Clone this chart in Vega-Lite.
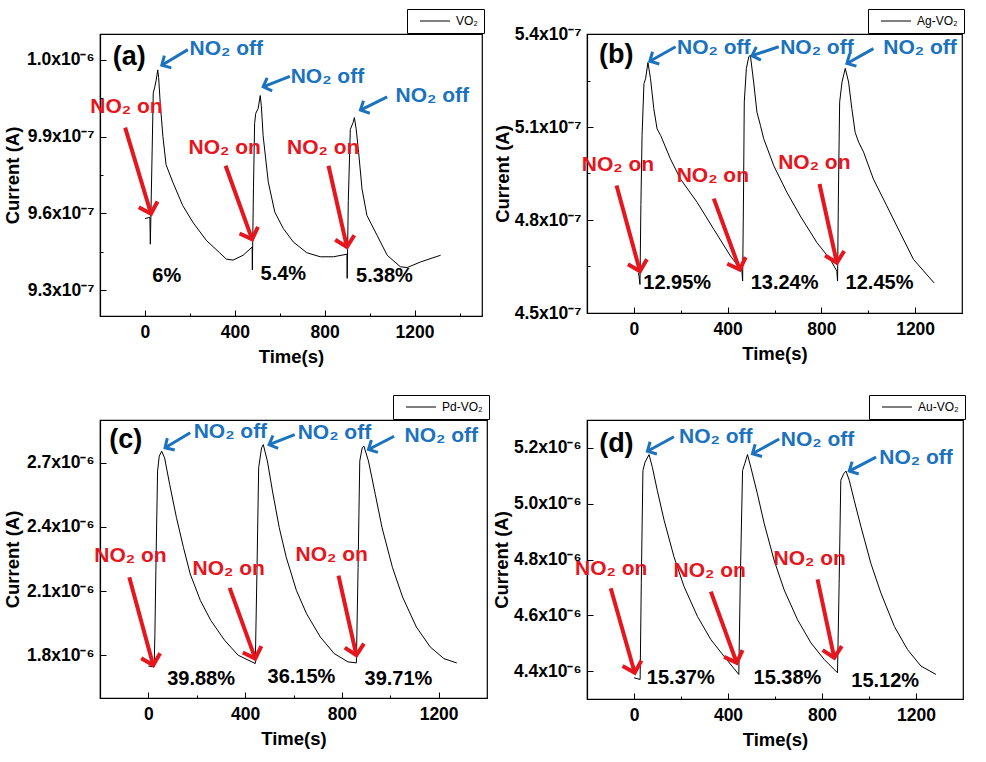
{
"$schema": "https://vega.github.io/schema/vega-lite/v6.json",
"padding": {"left": 2, "top": 7, "right": 0, "bottom": 0},
"config": {
 "view": {"stroke": "black", "strokeWidth": 1.2},
 "axis": {"grid": false, "domainColor": "black", "domainWidth": 1.2, "tickColor": "black", "tickWidth": 1, "labelColor": "black", "titleColor": "black", "labelFont": "Liberation Sans", "labelFontWeight": "bold", "labelFontSize": 17.5, "titleFont": "Liberation Sans", "titleFontWeight": "bold", "titleFontSize": 18.5, "labelFlush": false, "labelOverlap": false},
 "legend": {"title": null, "orient": "none", "symbolType": "M0.2,0L6.2,0", "symbolSize": 100, "symbolStrokeWidth": 1, "labelOffset": 31, "padding": 6, "strokeColor": "black", "fillColor": "white", "labelFontSize": 12, "labelFont": "Liberation Sans", "labelColor": "black", "legendY": -25}
},
"resolve": {"scale": {"color": "independent"}, "legend": {"color": "independent"}},
"datasets": {
 "a_curve": [
  {"sample":"VO₂","t":0,"I":9.58e-7},{"sample":"VO₂","t":22,"I":9.585e-7},{"sample":"VO₂","t":24,"I":9.48e-7},{"sample":"VO₂","t":30,"I":9.75e-7},{"sample":"VO₂","t":37,"I":1.007e-6},{"sample":"VO₂","t":43,"I":1.009e-6},{"sample":"VO₂","t":50,"I":1.012e-6},{"sample":"VO₂","t":57,"I":1.016e-6},{"sample":"VO₂","t":61,"I":1.013e-6},{"sample":"VO₂","t":68,"I":1.003e-6},{"sample":"VO₂","t":80,"I":9.90e-7},{"sample":"VO₂","t":94,"I":9.79e-7},{"sample":"VO₂","t":124,"I":9.722e-7},{"sample":"VO₂","t":168,"I":9.631e-7},{"sample":"VO₂","t":213,"I":9.566e-7},{"sample":"VO₂","t":273,"I":9.495e-7},{"sample":"VO₂","t":332,"I":9.447e-7},{"sample":"VO₂","t":362,"I":9.422e-7},{"sample":"VO₂","t":392,"I":9.418e-7},{"sample":"VO₂","t":437,"I":9.437e-7},{"sample":"VO₂","t":477,"I":9.469e-7},{"sample":"VO₂","t":478,"I":9.38e-7},{"sample":"VO₂","t":483,"I":9.70e-7},{"sample":"VO₂","t":488,"I":9.95e-7},{"sample":"VO₂","t":493,"I":9.99e-7},{"sample":"VO₂","t":504,"I":1.001e-6},{"sample":"VO₂","t":513,"I":1.006e-6},{"sample":"VO₂","t":518,"I":1.002e-6},{"sample":"VO₂","t":526,"I":9.903e-7},{"sample":"VO₂","t":549,"I":9.722e-7},{"sample":"VO₂","t":578,"I":9.605e-7},{"sample":"VO₂","t":616,"I":9.541e-7},{"sample":"VO₂","t":660,"I":9.489e-7},{"sample":"VO₂","t":720,"I":9.447e-7},{"sample":"VO₂","t":780,"I":9.431e-7},{"sample":"VO₂","t":839,"I":9.431e-7},{"sample":"VO₂","t":899,"I":9.441e-7},{"sample":"VO₂","t":900,"I":9.347e-7},{"sample":"VO₂","t":905,"I":9.65e-7},{"sample":"VO₂","t":914,"I":9.928e-7},{"sample":"VO₂","t":926,"I":9.954e-7},{"sample":"VO₂","t":932,"I":9.974e-7},{"sample":"VO₂","t":940,"I":9.93e-7},{"sample":"VO₂","t":951,"I":9.838e-7},{"sample":"VO₂","t":966,"I":9.696e-7},{"sample":"VO₂","t":988,"I":9.592e-7},{"sample":"VO₂","t":1033,"I":9.515e-7},{"sample":"VO₂","t":1078,"I":9.437e-7},{"sample":"VO₂","t":1137,"I":9.392e-7},{"sample":"VO₂","t":1167,"I":9.389e-7},{"sample":"VO₂","t":1227,"I":9.411e-7},{"sample":"VO₂","t":1316,"I":9.437e-7}
 ],
 "a_notes": [
  {"kind":"tag","text":"(a)","tx":-70,"ty":1.0181e-6},
  {"kind":"off","text":"NO₂ off","tx":362,"ty":1.0217e-6,"x1":191,"y1":1.0239e-6,"x2":75,"y2":1.0178e-6,"angle":240},
  {"kind":"off","text":"NO₂ off","tx":812,"ty":1.0110e-6,"x1":645,"y1":1.0135e-6,"x2":526,"y2":1.0094e-6,"angle":249},
  {"kind":"off","text":"NO₂ off","tx":1279,"ty":1.0035e-6,"x1":1078,"y1":1.0055e-6,"x2":959,"y2":1.0003e-6,"angle":243},
  {"kind":"on","text":"NO₂ on","tx":-82,"ty":9.993e-7,"x1":-88,"y1":9.935e-7,"x2":27,"y2":9.599e-7,"angle":163},
  {"kind":"on","text":"NO₂ on","tx":355,"ty":9.831e-7,"x1":359,"y1":9.786e-7,"x2":477,"y2":9.499e-7,"angle":160},
  {"kind":"on","text":"NO₂ on","tx":793,"ty":9.831e-7,"x1":817,"y1":9.786e-7,"x2":899,"y2":9.469e-7,"angle":167},
  {"kind":"pct","text":"6%","tx":97,"ty":9.331e-7},
  {"kind":"pct","text":"5.4%","tx":616,"ty":9.340e-7},
  {"kind":"pct","text":"5.38%","tx":1066,"ty":9.331e-7}
 ],
 "b_curve": [
  {"sample":"Ag-VO₂","t":20,"I":4.63e-7},{"sample":"Ag-VO₂","t":26,"I":4.592e-7},{"sample":"Ag-VO₂","t":30,"I":4.85e-7},{"sample":"Ag-VO₂","t":35,"I":5.073e-7},{"sample":"Ag-VO₂","t":43,"I":5.24e-7},{"sample":"Ag-VO₂","t":50,"I":5.256e-7},{"sample":"Ag-VO₂","t":60,"I":5.308e-7},{"sample":"Ag-VO₂","t":71,"I":5.256e-7},{"sample":"Ag-VO₂","t":85,"I":5.159e-7},{"sample":"Ag-VO₂","t":99,"I":5.094e-7},{"sample":"Ag-VO₂","t":114,"I":5.073e-7},{"sample":"Ag-VO₂","t":156,"I":4.997e-7},{"sample":"Ag-VO₂","t":199,"I":4.932e-7},{"sample":"Ag-VO₂","t":270,"I":4.857e-7},{"sample":"Ag-VO₂","t":341,"I":4.770e-7},{"sample":"Ag-VO₂","t":412,"I":4.684e-7},{"sample":"Ag-VO₂","t":461,"I":4.635e-7},{"sample":"Ag-VO₂","t":464,"I":4.603e-7},{"sample":"Ag-VO₂","t":468,"I":4.90e-7},{"sample":"Ag-VO₂","t":471,"I":5.181e-7},{"sample":"Ag-VO₂","t":480,"I":5.289e-7},{"sample":"Ag-VO₂","t":490,"I":5.326e-7},{"sample":"Ag-VO₂","t":497,"I":5.332e-7},{"sample":"Ag-VO₂","t":511,"I":5.245e-7},{"sample":"Ag-VO₂","t":525,"I":5.148e-7},{"sample":"Ag-VO₂","t":540,"I":5.105e-7},{"sample":"Ag-VO₂","t":554,"I":5.062e-7},{"sample":"Ag-VO₂","t":597,"I":4.975e-7},{"sample":"Ag-VO₂","t":653,"I":4.889e-7},{"sample":"Ag-VO₂","t":710,"I":4.813e-7},{"sample":"Ag-VO₂","t":781,"I":4.727e-7},{"sample":"Ag-VO₂","t":838,"I":4.673e-7},{"sample":"Ag-VO₂","t":866,"I":4.635e-7},{"sample":"Ag-VO₂","t":869,"I":4.603e-7},{"sample":"Ag-VO₂","t":873,"I":4.90e-7},{"sample":"Ag-VO₂","t":878,"I":5.18e-7},{"sample":"Ag-VO₂","t":888,"I":5.245e-7},{"sample":"Ag-VO₂","t":902,"I":5.289e-7},{"sample":"Ag-VO₂","t":916,"I":5.245e-7},{"sample":"Ag-VO₂","t":930,"I":5.159e-7},{"sample":"Ag-VO₂","t":944,"I":5.083e-7},{"sample":"Ag-VO₂","t":959,"I":5.051e-7},{"sample":"Ag-VO₂","t":980,"I":5.019e-7},{"sample":"Ag-VO₂","t":1022,"I":4.932e-7},{"sample":"Ag-VO₂","t":1079,"I":4.846e-7},{"sample":"Ag-VO₂","t":1136,"I":4.759e-7},{"sample":"Ag-VO₂","t":1193,"I":4.673e-7},{"sample":"Ag-VO₂","t":1281,"I":4.597e-7}
 ],
 "b_notes": [
  {"kind":"tag","text":"(b)","tx":-75,"ty":5.305e-7},
  {"kind":"off","text":"NO₂ off","tx":341,"ty":5.334e-7,"x1":178,"y1":5.359e-7,"x2":68,"y2":5.312e-7,"angle":241},
  {"kind":"off","text":"NO₂ off","tx":781,"ty":5.334e-7,"x1":618,"y1":5.359e-7,"x2":504,"y2":5.330e-7,"angle":251},
  {"kind":"off","text":"NO₂ off","tx":1221,"ty":5.334e-7,"x1":1022,"y1":5.353e-7,"x2":909,"y2":5.305e-7,"angle":241},
  {"kind":"on","text":"NO₂ on","tx":-68,"ty":4.959e-7,"x1":-74,"y1":4.911e-7,"x2":26,"y2":4.635e-7,"angle":165},
  {"kind":"on","text":"NO₂ on","tx":337,"ty":4.921e-7,"x1":341,"y1":4.869e-7,"x2":452,"y2":4.640e-7,"angle":160},
  {"kind":"on","text":"NO₂ on","tx":770,"ty":4.965e-7,"x1":792,"y1":4.916e-7,"x2":866,"y2":4.662e-7,"angle":167},
  {"kind":"pct","text":"12.95%","tx":185,"ty":4.576e-7},
  {"kind":"pct","text":"13.24%","tx":643,"ty":4.578e-7},
  {"kind":"pct","text":"12.45%","tx":1048,"ty":4.576e-7}
 ],
 "c_curve": [
  {"sample":"Pd-VO₂","t":0,"I":1.749e-6},{"sample":"Pd-VO₂","t":24,"I":1.746e-6},{"sample":"Pd-VO₂","t":27,"I":1.90e-6},{"sample":"Pd-VO₂","t":31,"I":2.196e-6},{"sample":"Pd-VO₂","t":38,"I":2.661e-6},{"sample":"Pd-VO₂","t":45,"I":2.731e-6},{"sample":"Pd-VO₂","t":55,"I":2.754e-6},{"sample":"Pd-VO₂","t":67,"I":2.723e-6},{"sample":"Pd-VO₂","t":88,"I":2.599e-6},{"sample":"Pd-VO₂","t":116,"I":2.444e-6},{"sample":"Pd-VO₂","t":145,"I":2.304e-6},{"sample":"Pd-VO₂","t":173,"I":2.180e-6},{"sample":"Pd-VO₂","t":215,"I":2.056e-6},{"sample":"Pd-VO₂","t":258,"I":1.963e-6},{"sample":"Pd-VO₂","t":315,"I":1.870e-6},{"sample":"Pd-VO₂","t":371,"I":1.800e-6},{"sample":"Pd-VO₂","t":428,"I":1.769e-6},{"sample":"Pd-VO₂","t":442,"I":1.761e-6},{"sample":"Pd-VO₂","t":449,"I":2.196e-6},{"sample":"Pd-VO₂","t":456,"I":2.677e-6},{"sample":"Pd-VO₂","t":468,"I":2.770e-6},{"sample":"Pd-VO₂","t":475,"I":2.785e-6},{"sample":"Pd-VO₂","t":492,"I":2.708e-6},{"sample":"Pd-VO₂","t":513,"I":2.568e-6},{"sample":"Pd-VO₂","t":541,"I":2.397e-6},{"sample":"Pd-VO₂","t":570,"I":2.258e-6},{"sample":"Pd-VO₂","t":612,"I":2.103e-6},{"sample":"Pd-VO₂","t":654,"I":1.994e-6},{"sample":"Pd-VO₂","t":711,"I":1.885e-6},{"sample":"Pd-VO₂","t":768,"I":1.808e-6},{"sample":"Pd-VO₂","t":825,"I":1.769e-6},{"sample":"Pd-VO₂","t":860,"I":1.764e-6},{"sample":"Pd-VO₂","t":867,"I":2.211e-6},{"sample":"Pd-VO₂","t":874,"I":2.708e-6},{"sample":"Pd-VO₂","t":884,"I":2.770e-6},{"sample":"Pd-VO₂","t":891,"I":2.778e-6},{"sample":"Pd-VO₂","t":910,"I":2.708e-6},{"sample":"Pd-VO₂","t":938,"I":2.553e-6},{"sample":"Pd-VO₂","t":966,"I":2.397e-6},{"sample":"Pd-VO₂","t":1009,"I":2.211e-6},{"sample":"Pd-VO₂","t":1051,"I":2.072e-6},{"sample":"Pd-VO₂","t":1108,"I":1.932e-6},{"sample":"Pd-VO₂","t":1165,"I":1.839e-6},{"sample":"Pd-VO₂","t":1222,"I":1.784e-6},{"sample":"Pd-VO₂","t":1275,"I":1.764e-6}
 ],
 "c_notes": [
  {"kind":"tag","text":"(c)","tx":-94,"ty":2.770e-6},
  {"kind":"off","text":"NO₂ off","tx":339,"ty":2.816e-6,"x1":173,"y1":2.840e-6,"x2":69,"y2":2.770e-6,"angle":238},
  {"kind":"off","text":"NO₂ off","tx":769,"ty":2.809e-6,"x1":605,"y1":2.832e-6,"x2":499,"y2":2.785e-6,"angle":248},
  {"kind":"off","text":"NO₂ off","tx":1211,"ty":2.798e-6,"x1":1016,"y1":2.824e-6,"x2":910,"y2":2.762e-6,"angle":242},
  {"kind":"on","text":"NO₂ on","tx":-74,"ty":2.235e-6,"x1":-79,"y1":2.165e-6,"x2":20,"y2":1.753e-6,"angle":165},
  {"kind":"on","text":"NO₂ on","tx":332,"ty":2.176e-6,"x1":336,"y1":2.115e-6,"x2":442,"y2":1.784e-6,"angle":161},
  {"kind":"on","text":"NO₂ on","tx":758,"ty":2.242e-6,"x1":786,"y1":2.172e-6,"x2":860,"y2":1.800e-6,"angle":168},
  {"kind":"pct","text":"39.88%","tx":218,"ty":1.660e-6},
  {"kind":"pct","text":"36.15%","tx":633,"ty":1.668e-6},
  {"kind":"pct","text":"39.71%","tx":1034,"ty":1.660e-6}
 ],
 "d_curve": [
  {"sample":"Au-VO₂","t":0,"I":4.376e-6},{"sample":"Au-VO₂","t":26,"I":4.370e-6},{"sample":"Au-VO₂","t":31,"I":4.715e-6},{"sample":"Au-VO₂","t":38,"I":5.119e-6},{"sample":"Au-VO₂","t":47,"I":5.149e-6},{"sample":"Au-VO₂","t":64,"I":5.176e-6},{"sample":"Au-VO₂","t":78,"I":5.131e-6},{"sample":"Au-VO₂","t":99,"I":5.048e-6},{"sample":"Au-VO₂","t":128,"I":4.941e-6},{"sample":"Au-VO₂","t":170,"I":4.810e-6},{"sample":"Au-VO₂","t":213,"I":4.703e-6},{"sample":"Au-VO₂","t":270,"I":4.596e-6},{"sample":"Au-VO₂","t":327,"I":4.513e-6},{"sample":"Au-VO₂","t":383,"I":4.453e-6},{"sample":"Au-VO₂","t":446,"I":4.388e-6},{"sample":"Au-VO₂","t":452,"I":4.715e-6},{"sample":"Au-VO₂","t":462,"I":5.119e-6},{"sample":"Au-VO₂","t":471,"I":5.143e-6},{"sample":"Au-VO₂","t":483,"I":5.176e-6},{"sample":"Au-VO₂","t":497,"I":5.131e-6},{"sample":"Au-VO₂","t":525,"I":5.036e-6},{"sample":"Au-VO₂","t":554,"I":4.929e-6},{"sample":"Au-VO₂","t":596,"I":4.798e-6},{"sample":"Au-VO₂","t":639,"I":4.691e-6},{"sample":"Au-VO₂","t":696,"I":4.584e-6},{"sample":"Au-VO₂","t":753,"I":4.501e-6},{"sample":"Au-VO₂","t":809,"I":4.442e-6},{"sample":"Au-VO₂","t":866,"I":4.394e-6},{"sample":"Au-VO₂","t":873,"I":4.715e-6},{"sample":"Au-VO₂","t":880,"I":5.084e-6},{"sample":"Au-VO₂","t":892,"I":5.107e-6},{"sample":"Au-VO₂","t":902,"I":5.117e-6},{"sample":"Au-VO₂","t":916,"I":5.084e-6},{"sample":"Au-VO₂","t":937,"I":5.012e-6},{"sample":"Au-VO₂","t":966,"I":4.917e-6},{"sample":"Au-VO₂","t":1008,"I":4.786e-6},{"sample":"Au-VO₂","t":1051,"I":4.679e-6},{"sample":"Au-VO₂","t":1108,"I":4.560e-6},{"sample":"Au-VO₂","t":1164,"I":4.477e-6},{"sample":"Au-VO₂","t":1221,"I":4.418e-6},{"sample":"Au-VO₂","t":1285,"I":4.388e-6}
 ],
 "d_notes": [
  {"kind":"tag","text":"(d)","tx":-75,"ty":5.185e-6},
  {"kind":"off","text":"NO₂ off","tx":348,"ty":5.217e-6,"x1":170,"y1":5.240e-6,"x2":57,"y2":5.188e-6,"angle":241},
  {"kind":"off","text":"NO₂ off","tx":781,"ty":5.208e-6,"x1":618,"y1":5.232e-6,"x2":504,"y2":5.179e-6,"angle":241},
  {"kind":"off","text":"NO₂ off","tx":1200,"ty":5.143e-6,"x1":1030,"y1":5.167e-6,"x2":916,"y2":5.117e-6,"angle":242},
  {"kind":"on","text":"NO₂ on","tx":-97,"ty":4.745e-6,"x1":-99,"y1":4.697e-6,"x2":3,"y2":4.394e-6,"angle":164},
  {"kind":"on","text":"NO₂ on","tx":322,"ty":4.739e-6,"x1":327,"y1":4.685e-6,"x2":437,"y2":4.430e-6,"angle":160},
  {"kind":"on","text":"NO₂ on","tx":748,"ty":4.780e-6,"x1":781,"y1":4.729e-6,"x2":852,"y2":4.448e-6,"angle":168},
  {"kind":"pct","text":"15.37%","tx":199,"ty":4.352e-6},
  {"kind":"pct","text":"15.38%","tx":653,"ty":4.352e-6},
  {"kind":"pct","text":"15.12%","tx":1069,"ty":4.344e-6}
 ]
},
"columns": 2,
"spacing": {"row": 26, "column": 0},
"concat": [
  {"width": 382, "height": 282, "layer": [
   {"data": {"name": "a_curve"}, "mark": {"type": "line", "strokeWidth": 1},
    "encoding": {
     "x": {"field": "t", "type": "quantitative", "scale": {"domain": [-200, 1500], "nice": false, "zero": false},
      "axis": {"title": "Time(s)", "values": [0,200,400,600,800,1000,1200,1400], "labelExpr": "datum.value % 400 === 0 ? format(datum.value,'d') : ''", "tickSize": {"condition": {"test": "datum.value % 400 === 0", "value": -6}, "value": -3}, "labelPadding": 13, "titlePadding": 4}},
     "y": {"field": "I", "type": "quantitative", "scale": {"domain": [9.2e-7, 1.03e-6], "nice": false, "zero": false},
      "axis": {"title": "Current (A)", "values": [9.3e-7,9.45e-7,9.6e-7,9.75e-7,9.9e-7,1.005e-6,1.02e-6], "labelExpr": "round(datum.value*1e9) % 30 === 0 ? (datum.value>1e-6 ? format(datum.value*1e6,'.1f')+'x10⁻⁶' : format(datum.value*1e7,'.1f')+'x10⁻⁷') : ''", "tickSize": {"condition": {"test": "round(datum.value*1e9) % 30 === 0", "value": -6}, "value": -3}, "labelPadding": 12, "titlePadding": 4}},
     "color": {"field": "sample", "type": "nominal", "scale": {"range": ["black"]}, "legend": {"legendX": 307}}
    }},
   {"data": {"name": "a_notes"}, "transform": [{"filter": "datum.kind==='on' || datum.kind==='off'"}], "mark": {"type": "rule"},
    "encoding": {"x": {"field": "x1", "type": "quantitative"}, "y": {"field": "y1", "type": "quantitative"}, "x2": {"field": "x2"}, "y2": {"field": "y2"},
     "color": {"condition": {"test": "datum.kind==='on'", "value": "#E5161E"}, "value": "#1B72BE"},
     "strokeWidth": {"condition": {"test": "datum.kind==='on'", "value": 4}, "value": 3}}},
   {"data": {"name": "a_notes"}, "transform": [{"filter": "datum.kind==='on' || datum.kind==='off'"}], "mark": {"type": "point", "shape": "M-0.7,0.7L0,0L0.7,0.7", "filled": false, "opacity": 1, "strokeJoin": "miter"},
    "encoding": {"x": {"field": "x2", "type": "quantitative"}, "y": {"field": "y2", "type": "quantitative"},
     "angle": {"field": "angle", "type": "quantitative", "scale": null},
     "color": {"condition": {"test": "datum.kind==='on'", "value": "#E5161E"}, "value": "#1B72BE"},
     "size": {"condition": {"test": "datum.kind==='on'", "value": 784}, "value": 400},
     "strokeWidth": {"condition": {"test": "datum.kind==='on'", "value": 4}, "value": 3}}},
   {"data": {"name": "a_notes"}, "mark": {"type": "text", "align": "center", "baseline": "alphabetic", "font": "Liberation Sans", "fontWeight": "bold"},
    "encoding": {"x": {"field": "tx", "type": "quantitative"}, "y": {"field": "ty", "type": "quantitative"}, "text": {"field": "text"},
     "color": {"condition": [{"test": "datum.kind==='on'", "value": "#E5161E"}, {"test": "datum.kind==='off'", "value": "#1B72BE"}], "value": "black"},
     "size": {"condition": [{"test": "datum.kind==='tag'", "value": 27}, {"test": "datum.kind==='pct'", "value": 20}], "value": 21}}}
  ]},
  {"width": 375, "height": 279, "layer": [
   {"data": {"name": "b_curve"}, "mark": {"type": "line", "strokeWidth": 1},
    "encoding": {
     "x": {"field": "t", "type": "quantitative", "scale": {"domain": [-200, 1400], "nice": false, "zero": false},
      "axis": {"title": "Time(s)", "values": [0,200,400,600,800,1000,1200], "labelExpr": "datum.value % 400 === 0 ? format(datum.value,'d') : ''", "tickSize": {"condition": {"test": "datum.value % 400 === 0", "value": -6}, "value": -3}, "labelPadding": 13, "titlePadding": 4}},
     "y": {"field": "I", "type": "quantitative", "scale": {"domain": [4.5e-7, 5.4e-7], "nice": false, "zero": false},
      "axis": {"title": "Current (A)", "values": [4.5e-7,4.65e-7,4.8e-7,4.95e-7,5.1e-7,5.25e-7,5.4e-7], "labelExpr": "round(datum.value*1e9) % 30 === 0 ? format(datum.value*1e7,'.1f')+'x10⁻⁷' : ''", "tickSize": {"condition": {"test": "round(datum.value*1e9) % 30 === 0", "value": -6}, "value": -3}, "labelPadding": 12, "titlePadding": 2}},
     "color": {"field": "sample", "type": "nominal", "scale": {"range": ["black"]}, "legend": {"legendX": 281}}
    }},
   {"data": {"name": "b_notes"}, "transform": [{"filter": "datum.kind==='on' || datum.kind==='off'"}], "mark": {"type": "rule"},
    "encoding": {"x": {"field": "x1", "type": "quantitative"}, "y": {"field": "y1", "type": "quantitative"}, "x2": {"field": "x2"}, "y2": {"field": "y2"},
     "color": {"condition": {"test": "datum.kind==='on'", "value": "#E5161E"}, "value": "#1B72BE"},
     "strokeWidth": {"condition": {"test": "datum.kind==='on'", "value": 4}, "value": 3}}},
   {"data": {"name": "b_notes"}, "transform": [{"filter": "datum.kind==='on' || datum.kind==='off'"}], "mark": {"type": "point", "shape": "M-0.7,0.7L0,0L0.7,0.7", "filled": false, "opacity": 1, "strokeJoin": "miter"},
    "encoding": {"x": {"field": "x2", "type": "quantitative"}, "y": {"field": "y2", "type": "quantitative"},
     "angle": {"field": "angle", "type": "quantitative", "scale": null},
     "color": {"condition": {"test": "datum.kind==='on'", "value": "#E5161E"}, "value": "#1B72BE"},
     "size": {"condition": {"test": "datum.kind==='on'", "value": 784}, "value": 400},
     "strokeWidth": {"condition": {"test": "datum.kind==='on'", "value": 4}, "value": 3}}},
   {"data": {"name": "b_notes"}, "mark": {"type": "text", "align": "center", "baseline": "alphabetic", "font": "Liberation Sans", "fontWeight": "bold"},
    "encoding": {"x": {"field": "tx", "type": "quantitative"}, "y": {"field": "ty", "type": "quantitative"}, "text": {"field": "text"},
     "color": {"condition": [{"test": "datum.kind==='on'", "value": "#E5161E"}, {"test": "datum.kind==='off'", "value": "#1B72BE"}], "value": "black"},
     "size": {"condition": [{"test": "datum.kind==='tag'", "value": 27}, {"test": "datum.kind==='pct'", "value": 20}], "value": 21}}}
  ]},
  {"width": 387, "height": 278, "layer": [
   {"data": {"name": "c_curve"}, "mark": {"type": "line", "strokeWidth": 1},
    "encoding": {
     "x": {"field": "t", "type": "quantitative", "scale": {"domain": [-200, 1400], "nice": false, "zero": false},
      "axis": {"title": "Time(s)", "values": [0,200,400,600,800,1000,1200], "labelExpr": "datum.value % 400 === 0 ? format(datum.value,'d') : ''", "tickSize": {"condition": {"test": "datum.value % 400 === 0", "value": -6}, "value": -3}, "labelPadding": 13, "titlePadding": 4}},
     "y": {"field": "I", "type": "quantitative", "scale": {"domain": [1.6e-6, 2.9e-6], "nice": false, "zero": false},
      "axis": {"title": "Current (A)", "values": [1.8e-6,2.1e-6,2.4e-6,2.7e-6], "labelExpr": "format(datum.value*1e6,'.1f')+'x10⁻⁶'", "tickSize": -6, "labelPadding": 12, "titlePadding": 4}},
     "color": {"field": "sample", "type": "nominal", "scale": {"range": ["black"]}, "legend": {"legendX": 293}}
    }},
   {"data": {"name": "c_notes"}, "transform": [{"filter": "datum.kind==='on' || datum.kind==='off'"}], "mark": {"type": "rule"},
    "encoding": {"x": {"field": "x1", "type": "quantitative"}, "y": {"field": "y1", "type": "quantitative"}, "x2": {"field": "x2"}, "y2": {"field": "y2"},
     "color": {"condition": {"test": "datum.kind==='on'", "value": "#E5161E"}, "value": "#1B72BE"},
     "strokeWidth": {"condition": {"test": "datum.kind==='on'", "value": 4}, "value": 3}}},
   {"data": {"name": "c_notes"}, "transform": [{"filter": "datum.kind==='on' || datum.kind==='off'"}], "mark": {"type": "point", "shape": "M-0.7,0.7L0,0L0.7,0.7", "filled": false, "opacity": 1, "strokeJoin": "miter"},
    "encoding": {"x": {"field": "x2", "type": "quantitative"}, "y": {"field": "y2", "type": "quantitative"},
     "angle": {"field": "angle", "type": "quantitative", "scale": null},
     "color": {"condition": {"test": "datum.kind==='on'", "value": "#E5161E"}, "value": "#1B72BE"},
     "size": {"condition": {"test": "datum.kind==='on'", "value": 784}, "value": 400},
     "strokeWidth": {"condition": {"test": "datum.kind==='on'", "value": 4}, "value": 3}}},
   {"data": {"name": "c_notes"}, "mark": {"type": "text", "align": "center", "baseline": "alphabetic", "font": "Liberation Sans", "fontWeight": "bold"},
    "encoding": {"x": {"field": "tx", "type": "quantitative"}, "y": {"field": "ty", "type": "quantitative"}, "text": {"field": "text"},
     "color": {"condition": [{"test": "datum.kind==='on'", "value": "#E5161E"}, {"test": "datum.kind==='off'", "value": "#1B72BE"}], "value": "black"},
     "size": {"condition": [{"test": "datum.kind==='tag'", "value": 27}, {"test": "datum.kind==='pct'", "value": 20}], "value": 21}}}
  ]},
  {"width": 376, "height": 279, "layer": [
   {"data": {"name": "d_curve"}, "mark": {"type": "line", "strokeWidth": 1},
    "encoding": {
     "x": {"field": "t", "type": "quantitative", "scale": {"domain": [-200, 1400], "nice": false, "zero": false},
      "axis": {"title": "Time(s)", "values": [0,200,400,600,800,1000,1200], "labelExpr": "datum.value % 400 === 0 ? format(datum.value,'d') : ''", "tickSize": {"condition": {"test": "datum.value % 400 === 0", "value": -6}, "value": -3}, "labelPadding": 13, "titlePadding": 4}},
     "y": {"field": "I", "type": "quantitative", "scale": {"domain": [4.3e-6, 5.3e-6], "nice": false, "zero": false},
      "axis": {"title": "Current (A)", "values": [4.4e-6,4.5e-6,4.6e-6,4.7e-6,4.8e-6,4.9e-6,5.0e-6,5.1e-6,5.2e-6], "labelExpr": "round(datum.value*1e8) % 20 === 0 ? format(datum.value*1e6,'.1f')+'x10⁻⁶' : ''", "tickSize": {"condition": {"test": "round(datum.value*1e8) % 20 === 0", "value": -6}, "value": -3}, "labelPadding": 12, "titlePadding": 2}},
     "color": {"field": "sample", "type": "nominal", "scale": {"range": ["black"]}, "legend": {"legendX": 282}}
    }},
   {"data": {"name": "d_notes"}, "transform": [{"filter": "datum.kind==='on' || datum.kind==='off'"}], "mark": {"type": "rule"},
    "encoding": {"x": {"field": "x1", "type": "quantitative"}, "y": {"field": "y1", "type": "quantitative"}, "x2": {"field": "x2"}, "y2": {"field": "y2"},
     "color": {"condition": {"test": "datum.kind==='on'", "value": "#E5161E"}, "value": "#1B72BE"},
     "strokeWidth": {"condition": {"test": "datum.kind==='on'", "value": 4}, "value": 3}}},
   {"data": {"name": "d_notes"}, "transform": [{"filter": "datum.kind==='on' || datum.kind==='off'"}], "mark": {"type": "point", "shape": "M-0.7,0.7L0,0L0.7,0.7", "filled": false, "opacity": 1, "strokeJoin": "miter"},
    "encoding": {"x": {"field": "x2", "type": "quantitative"}, "y": {"field": "y2", "type": "quantitative"},
     "angle": {"field": "angle", "type": "quantitative", "scale": null},
     "color": {"condition": {"test": "datum.kind==='on'", "value": "#E5161E"}, "value": "#1B72BE"},
     "size": {"condition": {"test": "datum.kind==='on'", "value": 784}, "value": 400},
     "strokeWidth": {"condition": {"test": "datum.kind==='on'", "value": 4}, "value": 3}}},
   {"data": {"name": "d_notes"}, "mark": {"type": "text", "align": "center", "baseline": "alphabetic", "font": "Liberation Sans", "fontWeight": "bold"},
    "encoding": {"x": {"field": "tx", "type": "quantitative"}, "y": {"field": "ty", "type": "quantitative"}, "text": {"field": "text"},
     "color": {"condition": [{"test": "datum.kind==='on'", "value": "#E5161E"}, {"test": "datum.kind==='off'", "value": "#1B72BE"}], "value": "black"},
     "size": {"condition": [{"test": "datum.kind==='tag'", "value": 27}, {"test": "datum.kind==='pct'", "value": 20}], "value": 21}}}
  ]}
]
}
